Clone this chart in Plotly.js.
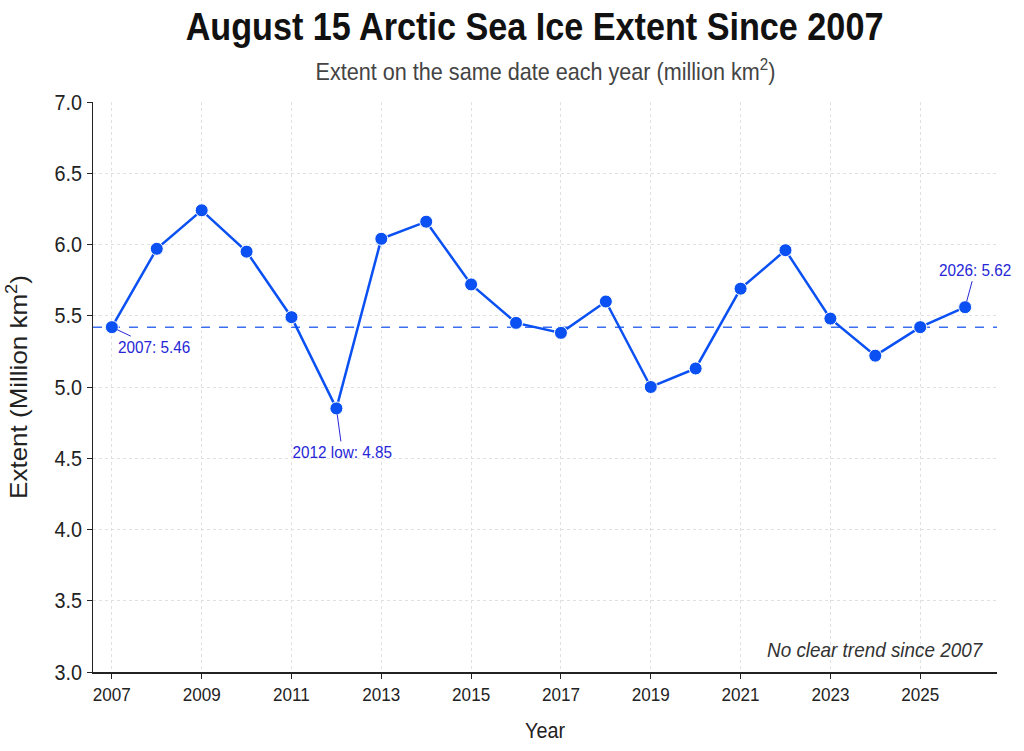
<!DOCTYPE html>
<html>
<head>
<meta charset="utf-8">
<script src="https://cdn.plot.ly/plotly-3.0.1.min.js"></script>
<style>html,body{margin:0;padding:0;background:#fff;}#chart{width:1024px;height:751px;}</style>
</head>
<body>
<div id="chart"></div>
<script>
const years = [2007,2008,2009,2010,2011,2012,2013,2014,2015,2016,2017,2018,2019,2020,2021,2022,2023,2024,2025,2026];
const extent = [5.42,5.97,6.24,5.95,5.49,4.85,6.04,6.16,5.72,5.45,5.38,5.60,5.00,5.13,5.69,5.96,5.48,5.22,5.42,5.56];
const baseline = 5.42;
const xTicks = [2007,2009,2011,2013,2015,2017,2019,2021,2023,2025];
const yTicks = [3.0,3.5,4.0,4.5,5.0,5.5,6.0,6.5,7.0];
const notes = [
  {year: 2007, value: 5.42, text: '2007: 5.46', ax: 42, ay: 20},
  {year: 2012, value: 4.85, text: '2012 low: 4.85', ax: 6, ay: 44},
  {year: 2026, value: 5.56, text: '2026: 5.62', ax: 10, ay: -37}
];

const FONT = '"Liberation Sans", Arial, sans-serif';
const SQUEEZE = 0.9;
const lineColor = '#0a50f2';
const noteColor = '#2626d6';

const trace = {
  x: years, y: extent, type: 'scatter', mode: 'lines+markers',
  line: {color: lineColor, width: 2.5},
  marker: {color: lineColor, size: 13, line: {color: '#ffffff', width: 1}},
  hoverinfo: 'x+y', showlegend: false
};

const annotations = notes.map(n => ({
  x: n.year, y: n.value, xref: 'x', yref: 'y', text: n.text,
  showarrow: true, arrowhead: 0, arrowwidth: 1, arrowcolor: noteColor,
  ax: n.ax, ay: n.ay, standoff: 6,
  font: {family: FONT, size: 17, color: noteColor}
}));
annotations.push({
  xref: 'paper', yref: 'paper', x: 0.5, y: 1.056, xanchor: 'center', yanchor: 'middle',
  showarrow: false, text: 'Extent on the same date each year (million km<sup>2</sup>)',
  font: {family: FONT, size: 24, color: '#444444'}
});
annotations.push({
  xref: 'paper', yref: 'paper', x: 0.866, y: 0.04, xanchor: 'center', yanchor: 'middle',
  showarrow: false, text: '<i>No clear trend since 2007</i>',
  font: {family: FONT, size: 21, color: '#333333'}
});

const layout = {
  width: 1024, height: 751,
  margin: {l: 93, r: 27, t: 102, b: 79},
  paper_bgcolor: '#ffffff', plot_bgcolor: '#ffffff',
  title: {
    text: '<b>August 15 Arctic Sea Ice Extent Since 2007</b>',
    x: 0.522, xref: 'container', xanchor: 'center',
    y: 1 - 27/751, yref: 'container', yanchor: 'middle',
    font: {family: FONT, size: 38, color: '#111111'}
  },
  xaxis: {
    range: [2006.58, 2026.71], tickmode: 'array', tickvals: xTicks, ticktext: xTicks.map(String),
    showgrid: true, gridcolor: '#e0e0e0', griddash: 'dot', gridwidth: 1,
    showline: true, linecolor: '#222222', linewidth: 1.5,
    ticks: 'outside', ticklen: 5, tickcolor: '#222222',
    zeroline: false,
    tickfont: {family: FONT, size: 19, color: '#222222'},
    title: {text: 'Year', font: {family: FONT, size: 22, color: '#222222'}, standoff: 18}
  },
  yaxis: {
    range: [3.0, 7.0], tickmode: 'array', tickvals: yTicks, ticktext: yTicks.map(v => v.toFixed(1)),
    showgrid: true, gridcolor: '#e0e0e0', griddash: 'dot', gridwidth: 1,
    showline: true, linecolor: '#222222', linewidth: 1.5,
    ticks: 'outside', ticklen: 5, tickcolor: '#222222',
    zeroline: false,
    tickfont: {family: FONT, size: 22, color: '#222222'},
    title: {text: 'Extent (Million km<sup>2</sup>)', font: {family: FONT, size: 26, color: '#222222'}, standoff: 16}
  },
  shapes: [{
    type: 'line', xref: 'paper', x0: 0, x1: 1, yref: 'y', y0: baseline, y1: baseline,
    line: {color: '#3b6ff0', width: 1.5, dash: 'dash'}, layer: 'below'
  }],
  annotations: annotations
};

// Horizontal condensing of the text glyphs (the reference uses narrow lettering)
function condense(root) {
  root.querySelectorAll('svg text').forEach(el => {
    if (!el.textContent) return;
    const x = parseFloat(el.getAttribute('x')) || 0;
    const t = el.getAttribute('transform') || '';
    const s = 'translate(' + x + ',0) scale(' + SQUEEZE + ',1) translate(' + (-x) + ',0)';
    if (el.classList.contains('ytitle')) {
      el.setAttribute('transform', s + ' ' + t);
    } else {
      el.setAttribute('transform', t + ' ' + s);
    }
  });
}

Plotly.newPlot('chart', [trace], layout, {displayModeBar: false, staticPlot: true})
  .then(gd => condense(gd));
</script>
</body>
</html>
